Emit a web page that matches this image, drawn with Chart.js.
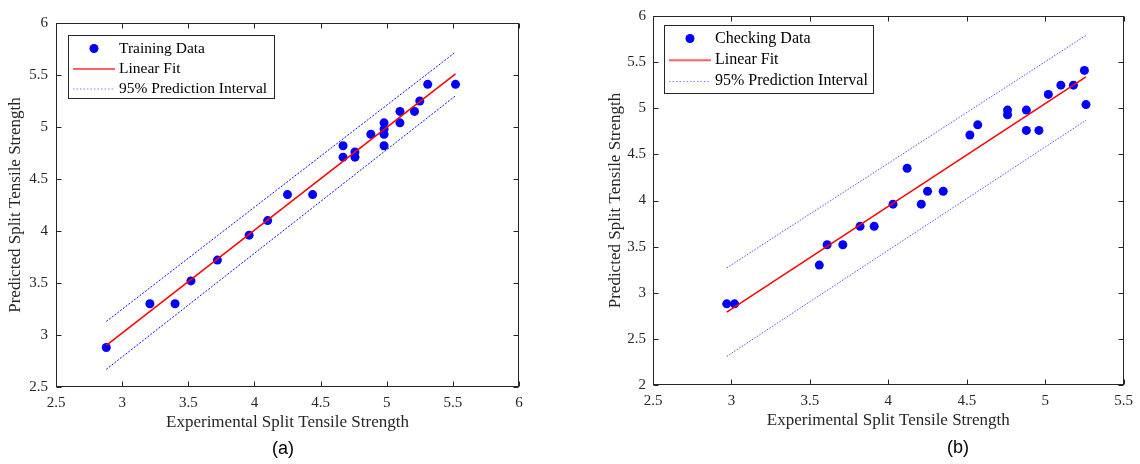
<!DOCTYPE html>
<html><head><meta charset="utf-8">
<script src="https://cdn.jsdelivr.net/npm/chart.js@4/dist/chart.umd.min.js"></script>
<style>
html,body{margin:0;padding:0;background:#fff;}
#wrap{position:relative;width:1140px;height:464px;overflow:hidden;background:#fff;}
.c{position:absolute;top:0;}
</style></head><body>
<div id="wrap">
<canvas id="ca" class="c" style="left:0px" width="560" height="464"></canvas>
<canvas id="cb" class="c" style="left:600px" width="540" height="464"></canvas>
</div>
<script>
// ---------- (a) Training data ----------
const trainX = [2.88, 3.21, 3.40, 3.52, 3.72, 3.96, 4.10, 4.25, 4.44, 4.67, 4.67, 4.76, 4.76, 4.88, 4.98, 4.98, 4.98, 4.98, 5.10, 5.10, 5.21, 5.25, 5.31, 5.52];
const trainY = [2.88, 3.30, 3.30, 3.52, 3.72, 3.96, 4.10, 4.35, 4.35, 4.82, 4.71, 4.76, 4.71, 4.93, 5.04, 4.98, 4.93, 4.82, 5.15, 5.04, 5.15, 5.25, 5.41, 5.41];
const trainLineX  = [2.88, 5.52];
const trainFitY   = [2.90, 5.51];
const trainUpperY = [3.13, 5.72];
const trainLowerY = [2.67, 5.30];

// ---------- (b) Checking data ----------
const checkX = [2.97, 3.02, 3.56, 3.61, 3.71, 3.82, 3.91, 4.03, 4.12, 4.21, 4.25, 4.35, 4.52, 4.57, 4.76, 4.76, 4.88, 4.88, 4.96, 5.02, 5.10, 5.18, 5.25, 5.26];
const checkY = [2.88, 2.88, 3.30, 3.52, 3.52, 3.72, 3.72, 3.96, 4.35, 3.96, 4.10, 4.10, 4.71, 4.82, 4.98, 4.93, 4.98, 4.76, 4.76, 5.15, 5.25, 5.25, 5.41, 5.04];
const checkLineX  = [2.97, 5.26];
const checkFitY   = [2.79, 5.34];
const checkUpperY = [3.27, 5.79];
const checkLowerY = [2.31, 4.87];

// ---------- axes ----------
const axisA = {xMin: 2.5, xMax: 6, yMin: 2.5, yMax: 6, step: 0.5};
const axisB = {xMin: 2.5, xMax: 5.5, yMin: 2, yMax: 6, step: 0.5};
const xTitle = 'Experimental Split Tensile Strength';
const yTitle = 'Predicted Split Tensile Strength';
const legendA = ['Training Data', 'Linear Fit', '95% Prediction Interval'];
const legendB = ['Checking Data', 'Linear Fit', '95% Prediction Interval'];

const SERIF = "'Liberation Serif','Times New Roman',serif";
const AXC = '#262626';

function pts(xs, ys) { return xs.map((x, i) => ({x: x, y: ys[i]})); }
function fmt(v) { return String(+Number(v).toFixed(2)); }

const framePlugin = {
  id: 'frameLegend',
  afterDraw(chart, args, o) {
    const ctx = chart.ctx, a = chart.chartArea, xs = chart.scales.x, ys = chart.scales.y;
    ctx.save();
    ctx.strokeStyle = AXC; ctx.lineWidth = 1; ctx.setLineDash([]);
    const L = Math.round(a.left) + 0.5, R = Math.round(a.right) - 0.5;
    const T = Math.round(a.top) + 0.5, B = Math.round(a.bottom) - 0.5;
    ctx.strokeRect(L, T, R - L, B - T);
    const len = 5;
    ctx.beginPath();
    xs.ticks.forEach(t => {
      const p = Math.round(xs.getPixelForValue(t.value)) + 0.5;
      ctx.moveTo(p, B); ctx.lineTo(p, B - len);
      ctx.moveTo(p, T); ctx.lineTo(p, T + len);
    });
    ys.ticks.forEach(t => {
      const p = Math.round(ys.getPixelForValue(t.value)) + 0.5;
      ctx.moveTo(L, p); ctx.lineTo(L + len, p);
      ctx.moveTo(R, p); ctx.lineTo(R - len, p);
    });
    ctx.stroke();

    // legend box
    const g = o.legend, ds = chart.data.datasets;
    ctx.fillStyle = '#fff';
    ctx.fillRect(g.x, g.y, g.w, g.h);
    ctx.strokeStyle = AXC; ctx.lineWidth = 1;
    ctx.strokeRect(g.x + 0.5, g.y + 0.5, g.w, g.h);
    ctx.font = g.font; ctx.textAlign = 'left'; ctx.textBaseline = 'middle'; ctx.fillStyle = '#000';
    g.labels.forEach((lab, i) => {
      const cy = g.y + g.row0 + i * g.rowH;
      if (i === 0) {
        ctx.fillStyle = ds[0].backgroundColor;
        ctx.beginPath(); ctx.arc(g.dotX, cy, 4.5, 0, Math.PI * 2); ctx.fill();
      } else if (i === 1) {
        ctx.strokeStyle = 'rgba(255,70,70,0.85)'; ctx.lineWidth = 2; ctx.setLineDash([]);
        ctx.beginPath(); ctx.moveTo(g.lineX0, cy + 0.5); ctx.lineTo(g.lineX1, cy + 0.5); ctx.stroke();
      } else {
        ctx.strokeStyle = 'rgba(90,90,255,0.8)'; ctx.lineWidth = 1; ctx.setLineDash([1.5, 2]);
        ctx.beginPath(); ctx.moveTo(g.lineX0, cy + 0.5); ctx.lineTo(g.lineX1, cy + 0.5); ctx.stroke();
        ctx.setLineDash([]);
      }
      ctx.fillStyle = '#000';
      ctx.fillText(lab, g.textX, cy);
    });

    // caption
    ctx.font = o.captionFont; ctx.fillStyle = '#000'; ctx.textAlign = 'center'; ctx.textBaseline = 'middle';
    ctx.fillText(o.caption, o.captionX, o.captionY);
    ctx.restore();
  }
};

function makeChart(id, cfg) {
  return new Chart(document.getElementById(id), {
    type: 'scatter',
    data: {
      datasets: [
        {data: pts(cfg.x, cfg.y), backgroundColor: '#0000ff', borderWidth: 0, pointRadius: 4.5, pointHoverRadius: 4.5, showLine: false, order: 2},
        {data: pts(cfg.lx, cfg.fit), showLine: true, borderColor: '#ff0000', borderWidth: 1.5, pointRadius: 0, fill: false, order: 1},
        {data: pts(cfg.lx, cfg.up), showLine: true, borderColor: cfg.piColor, borderWidth: 1, borderDash: cfg.piDash, pointRadius: 0, fill: false, order: 1},
        {data: pts(cfg.lx, cfg.lo), showLine: true, borderColor: cfg.piColor, borderWidth: 1, borderDash: cfg.piDash, pointRadius: 0, fill: false, order: 1}
      ]
    },
    options: {
      responsive: false,
      animation: false,
      events: [],
      layout: {padding: cfg.pad},
      plugins: {
        legend: {display: false},
        tooltip: {enabled: false},
        frameLegend: {legend: cfg.legend, caption: cfg.caption, captionX: cfg.capX, captionY: cfg.capY, captionFont: "18px 'Liberation Sans', Arial, sans-serif"}
      },
      scales: {
        x: {
          type: 'linear', min: cfg.ax.xMin, max: cfg.ax.xMax,
          grid: {display: false, drawTicks: false, tickLength: 0},
          border: {display: false},
          ticks: {stepSize: cfg.ax.step, padding: 7, color: AXC, font: {family: SERIF, size: 15}, maxRotation: 0, autoSkip: false, callback: fmt},
          title: {display: true, text: xTitle, color: AXC, font: {family: SERIF, size: 17}, padding: {top: 0, bottom: 0}},
          afterFit: s => { s.height = 46; }
        },
        y: {
          type: 'linear', min: cfg.ax.yMin, max: cfg.ax.yMax,
          grid: {display: false, drawTicks: false, tickLength: 0},
          border: {display: false},
          ticks: {stepSize: cfg.ax.step, padding: cfg.yPad, color: AXC, font: {family: SERIF, size: 15}, autoSkip: false, callback: fmt},
          title: {display: true, text: yTitle, color: AXC, font: {family: SERIF, size: 17}, padding: {top: 5, bottom: 0}},
          afterFit: s => { s.width = cfg.yW; }
        }
      }
    },
    plugins: [framePlugin]
  });
}

makeChart('ca', {
  x: trainX, y: trainY, lx: trainLineX, fit: trainFitY, up: trainUpperY, lo: trainLowerY,
  ax: axisA, piColor: 'rgba(0,0,255,0.95)', piDash: [2, 1.5],
  pad: {left: 0, right: 41, top: 23, bottom: 31}, yW: 56, yPad: 8,
  legend: {x: 68, y: 35, w: 206, h: 63, row0: 13.5, rowH: 20, dotX: 94, lineX0: 73, lineX1: 115, textX: 119, font: "15.5px " + SERIF, labels: legendA},
  caption: '(a)', capX: 283, capY: 449
});

makeChart('cb', {
  x: checkX, y: checkY, lx: checkLineX, fit: checkFitY, up: checkUpperY, lo: checkLowerY,
  ax: axisB, piColor: 'rgba(50,50,255,0.85)', piDash: [1.5, 1.5],
  pad: {left: 0, right: 16, top: 13, bottom: 33}, yW: 53, yPad: 7,
  legend: {x: 64, y: 25, w: 209, h: 68, row0: 13.5, rowH: 21.3, dotX: 90, lineX0: 69, lineX1: 111, textX: 115, font: "16px " + SERIF, labels: legendB},
  caption: '(b)', capX: 358, capY: 448
});
</script>
</body></html>
